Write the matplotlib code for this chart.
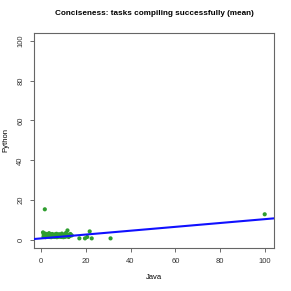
import numpy as np
import matplotlib
matplotlib.use("Agg")
import matplotlib.pyplot as plt

plt.rcParams["font.family"] = ["Liberation Sans", "DejaVu Sans"]

# mean conciseness per task (Java vs Python)
java = [1.8, 99.8, 11.9, 17.2, 19.7, 20.7, 21.8, 22.7, 31.1,
        1.0, 1.3, 1.6, 2.0, 2.3, 2.6, 3.0, 3.3, 3.7, 4.0, 4.4, 4.8,
        5.1, 5.5, 5.9, 6.2, 6.6, 7.0, 7.4, 7.8, 8.2, 8.6, 9.0, 9.4,
        9.8, 10.3, 10.7, 11.2, 11.6, 12.1, 12.6, 13.2, 13.8,
        1.2, 2.1, 2.9, 3.8, 4.6, 5.4, 6.3, 7.2, 8.1, 9.1, 10.1, 11.0, 12.4,
        1.5, 2.5, 3.5, 4.2, 5.0, 5.8, 6.8, 7.6, 8.8, 9.6, 10.5, 11.4, 13.0]
python = [15.4, 12.9, 4.8, 0.8, 0.8, 1.5, 4.3, 0.8, 0.8,
          3.8, 2.6, 2.0, 3.2, 1.8, 2.4, 2.9, 1.7, 3.4, 2.2, 2.7, 1.9,
          3.0, 2.3, 1.8, 2.8, 2.1, 3.1, 1.7, 2.5, 2.9, 1.9, 2.4, 3.2,
          2.0, 2.6, 1.8, 3.5, 2.2, 2.7, 1.9, 3.0, 2.3,
          1.5, 1.4, 1.6, 1.5, 1.4, 1.6, 1.5, 1.4, 1.6, 1.5, 1.4, 1.6, 1.5,
          2.2, 1.9, 2.6, 2.0, 2.5, 2.1, 2.4, 2.0, 2.3, 2.7, 1.9, 2.2, 2.0]

# fitted trend line
fit_intercept = 0.77
fit_slope = 0.097

x_ticks = [0, 20, 40, 60, 80, 100]
y_ticks = [0, 20, 40, 60, 80, 100]

fig = plt.figure(figsize=(2.91, 2.91), dpi=100)
ax = fig.add_axes([0.117, 0.148, 0.825, 0.739])

ax.scatter(java, python, s=9, color="#2f9e2f", edgecolors="none", zorder=3)
ax.axline((0, fit_intercept), slope=fit_slope, color="#1010ff", lw=1.5, zorder=4)

ax.set_xlim(-3, 104)
ax.set_ylim(-4, 104)
ax.set_xticks(x_ticks)
ax.set_yticks(y_ticks)
ax.tick_params(labelsize=5.5, length=3, width=0.6, color="#555555",
               labelcolor="#333333", pad=4)
plt.setp(ax.get_yticklabels(), rotation=90, va="center")
for s in ax.spines.values():
    s.set_color("#666666")
    s.set_linewidth(0.8)

ax.set_xlabel("Java", fontsize=5.5, labelpad=7)
ax.set_ylabel("Python", fontsize=5.5, labelpad=6)
ax.set_title("Conciseness: tasks compiling successfully (mean)",
             fontsize=5.9, fontweight="bold", pad=13)

fig.savefig("out.png", dpi=100)
